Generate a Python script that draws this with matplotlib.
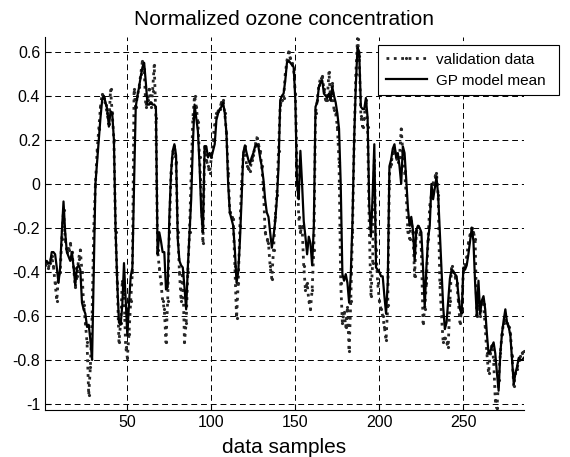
#!/usr/bin/env python3
"""Normalized ozone concentration: validation data vs GP model mean."""

import matplotlib

matplotlib.use("Agg")
import matplotlib.pyplot as plt

plt.rcParams["font.family"] = ["Liberation Sans", "DejaVu Sans"]

# validation data (dotted), one value per sample 1..286
validation = [
    -0.37, -0.36, -0.38, -0.36, -0.33, -0.375, -0.45, -0.53, -0.42, -0.40,
    -0.25, -0.12, -0.25, -0.31, -0.30, -0.27, -0.31, -0.38, -0.47, -0.42,
    -0.34, -0.30, -0.40, -0.55, -0.63, -0.72, -0.96, -0.83, -0.60, -0.20,
    0.00, 0.15, 0.25, 0.35, 0.41, 0.39, 0.36, 0.32, 0.27, 0.43,
    0.32, 0.20, -0.22, -0.45, -0.72, -0.63, -0.44, -0.50, -0.74, -0.79,
    -0.68, -0.53, -0.40, 0.43, 0.35, 0.40, 0.44, 0.50, 0.56, 0.52,
    0.35, 0.38, 0.43, 0.35, 0.42, 0.54, 0.30, -0.30, -0.38, -0.45,
    -0.53, -0.57, -0.72, -0.53, -0.22, 0.05, 0.14, 0.17, 0.10, -0.22,
    -0.40, -0.53, -0.40, -0.72, -0.63, -0.40, -0.22, 0.05, 0.30, 0.40,
    0.35, 0.28, 0.12, -0.05, -0.27, 0.17, 0.11, 0.08, 0.05, 0.12,
    0.20, 0.27, 0.32, 0.33, 0.34, 0.37, 0.38, 0.32, 0.23, 0.05,
    -0.13, -0.15, -0.16, -0.375, -0.61, -0.45, -0.19, 0.00, 0.13, 0.17,
    0.08, 0.07, 0.06, 0.11, 0.13, 0.17, 0.21, 0.18, 0.15, 0.08,
    -0.02, -0.22, -0.25, -0.27, -0.375, -0.43, -0.30, -0.15, -0.05, 0.15,
    0.36, 0.38, 0.39, 0.50, 0.56, 0.60, 0.57, 0.55, 0.52, 0.41,
    0.08, -0.15, -0.22, -0.19, -0.375, -0.48, -0.45, -0.53, -0.57, -0.48,
    -0.30, 0.32, 0.38, 0.45, 0.48, 0.49, 0.43, 0.38, 0.38, 0.51,
    0.38, 0.46, 0.335, 0.32, 0.26, 0.10, -0.45, -0.63, -0.58, -0.65,
    -0.56, -0.76, -0.53, -0.22, 0.20, 0.50, 0.66, 0.58, 0.31, 0.26,
    0.30, 0.38, 0.26, -0.20, -0.51, -0.36, 0.11, -0.30, -0.45, -0.53,
    -0.57, -0.60, -0.65, -0.71, -0.55, 0.05, 0.09, 0.14, 0.16, 0.12,
    0.10, 0.12, 0.25, 0.14, 0.06, -0.05, -0.22, -0.25, -0.17, -0.22,
    -0.42, -0.22, -0.19, -0.22, -0.30, -0.63, -0.57, -0.45, -0.25, -0.10,
    -0.05, 0.00, 0.03, 0.05, -0.05, -0.45, -0.60, -0.72, -0.70, -0.72,
    -0.74, -0.53, -0.375, -0.40, -0.42, -0.45, -0.53, -0.63, -0.57, -0.40,
    -0.375, -0.33, -0.27, -0.23, -0.20, -0.22, -0.25, -0.60, -0.53, -0.60,
    -0.53, -0.545, -0.65, -0.77, -0.86, -0.77, -0.73, -0.80, -0.98, -1.02,
    -0.89, -0.77, -0.68, -0.63, -0.62, -0.63, -0.65, -0.68, -0.78, -0.92,
    -0.86, -0.84, -0.80, -0.78, -0.77, -0.76,
]

# GP model mean (solid), one value per sample 1..286
gp_mean = [
    -0.36, -0.35, -0.36, -0.36, -0.31, -0.31, -0.32, -0.38, -0.45, -0.38,
    -0.22, -0.08, -0.22, -0.31, -0.33, -0.35, -0.31, -0.38, -0.46, -0.38,
    -0.37, -0.39, -0.54, -0.57, -0.59, -0.65, -0.64, -0.71, -0.80, -0.40,
    0.00, 0.10, 0.20, 0.30, 0.38, 0.40, 0.37, 0.34, 0.26, 0.33,
    0.32, 0.20, -0.21, -0.45, -0.63, -0.64, -0.55, -0.36, -0.53, -0.69,
    -0.54, -0.42, -0.38, 0.00, 0.35, 0.40, 0.44, 0.49, 0.53, 0.55,
    0.46, 0.36, 0.36, 0.37, 0.36, 0.36, 0.35, -0.32, -0.22, -0.26,
    -0.31, -0.31, -0.48, -0.47, -0.15, 0.05, 0.15, 0.18, 0.13, -0.25,
    -0.35, -0.37, -0.38, -0.47, -0.57, -0.38, -0.22, -0.07, 0.18, 0.36,
    0.30, 0.24, 0.08, -0.13, -0.22, 0.17, 0.17, 0.12, 0.14, 0.12,
    0.15, 0.18, 0.29, 0.32, 0.34, 0.35, 0.37, 0.32, 0.23, 0.00,
    -0.13, -0.16, -0.19, -0.30, -0.45, -0.40, -0.26, -0.07, 0.14, 0.175,
    0.14, 0.11, 0.09, 0.12, 0.14, 0.17, 0.18, 0.17, 0.12, 0.08,
    0.02, -0.07, -0.13, -0.15, -0.22, -0.29, -0.24, -0.17, -0.07, 0.08,
    0.38, 0.40, 0.41, 0.47, 0.55, 0.56, 0.55, 0.54, 0.53, 0.38,
    0.00, -0.07, 0.15, 0.00, -0.17, -0.24, -0.32, -0.24, -0.27, -0.37,
    -0.19, 0.35, 0.37, 0.44, 0.46, 0.47, 0.41, 0.40, 0.39, 0.41,
    0.38, 0.44, 0.40, 0.37, 0.32, 0.25, 0.00, -0.41, -0.44, -0.41,
    -0.45, -0.54, -0.41, -0.17, 0.20, 0.45, 0.62, 0.60, 0.35, 0.34,
    0.34, 0.39, 0.30, -0.10, -0.24, -0.05, 0.18, -0.38, -0.39, -0.40,
    -0.42, -0.42, -0.51, -0.59, -0.45, 0.08, 0.11, 0.16, 0.18, 0.12,
    0.14, 0.08, 0.00, 0.17, 0.14, 0.02, -0.11, -0.19, -0.15, -0.21,
    -0.35, -0.21, -0.19, -0.20, -0.22, -0.38, -0.56, -0.38, -0.25, -0.19,
    0.00, -0.07, -0.02, 0.03, -0.05, -0.22, -0.38, -0.56, -0.66, -0.63,
    -0.53, -0.43, -0.39, -0.40, -0.41, -0.42, -0.50, -0.57, -0.59, -0.38,
    -0.39, -0.37, -0.32, -0.26, -0.20, -0.26, -0.45, -0.60, -0.44, -0.59,
    -0.53, -0.51, -0.57, -0.68, -0.77, -0.76, -0.74, -0.72, -0.77, -0.86,
    -0.94, -0.77, -0.68, -0.62, -0.57, -0.63, -0.65, -0.69, -0.80, -0.91,
    -0.86, -0.83, -0.79, -0.80, -0.80, -0.79,
]

samples = list(range(1, len(gp_mean) + 1))
x_ticks = [50, 100, 150, 200, 250]
y_ticks = [0.6, 0.4, 0.2, 0, -0.2, -0.4, -0.6, -0.8, -1]
y_labels = ["0.6", "0.4", "0.2", "0", "-0.2", "-0.4", "-0.6", "-0.8", "-1"]


def main():
    fig = plt.figure(figsize=(5.7, 4.57), dpi=100)
    ax = fig.add_axes([0.079, 0.103, 0.84, 0.816])

    ax.plot(samples, validation, color="0.15", linestyle=":", linewidth=2.0,
            marker=".", markersize=2.5, label="validation data")
    ax.plot(samples, gp_mean, color="black", linewidth=1.6,
            label="GP model mean")

    ax.set_xlim(1, samples[-1])
    ax.set_ylim(-1.027, 0.667)
    ax.set_xticks(x_ticks)
    ax.set_yticks(y_ticks)
    ax.set_yticklabels(y_labels)
    ax.tick_params(direction="in", length=4, labelsize=11.5, width=0.8)
    ax.grid(True, color="black", linestyle=(0, (6, 4)), linewidth=0.7)
    ax.spines["top"].set_visible(False)
    ax.spines["right"].set_visible(False)

    ax.set_title("Normalized ozone concentration", fontsize=15, pad=9)
    ax.set_xlabel("data samples", fontsize=15, labelpad=6)

    # legend box sticks out past the right end of the axes, as in the source
    leg = ax.legend(loc="upper left", mode="expand", fontsize=11,
                    numpoints=1, fancybox=False, framealpha=1,
                    edgecolor="black",
                    bbox_to_anchor=(378 / 570, 1 - 93 / 457,
                                    181 / 570, 48 / 457),
                    bbox_transform=fig.transFigure, borderaxespad=0,
                    handlelength=2.7, handletextpad=0.6, borderpad=0.5,
                    labelspacing=0.45)
    leg.get_frame().set_linewidth(0.8)

    fig.savefig("out.png")


if __name__ == "__main__":
    main()
